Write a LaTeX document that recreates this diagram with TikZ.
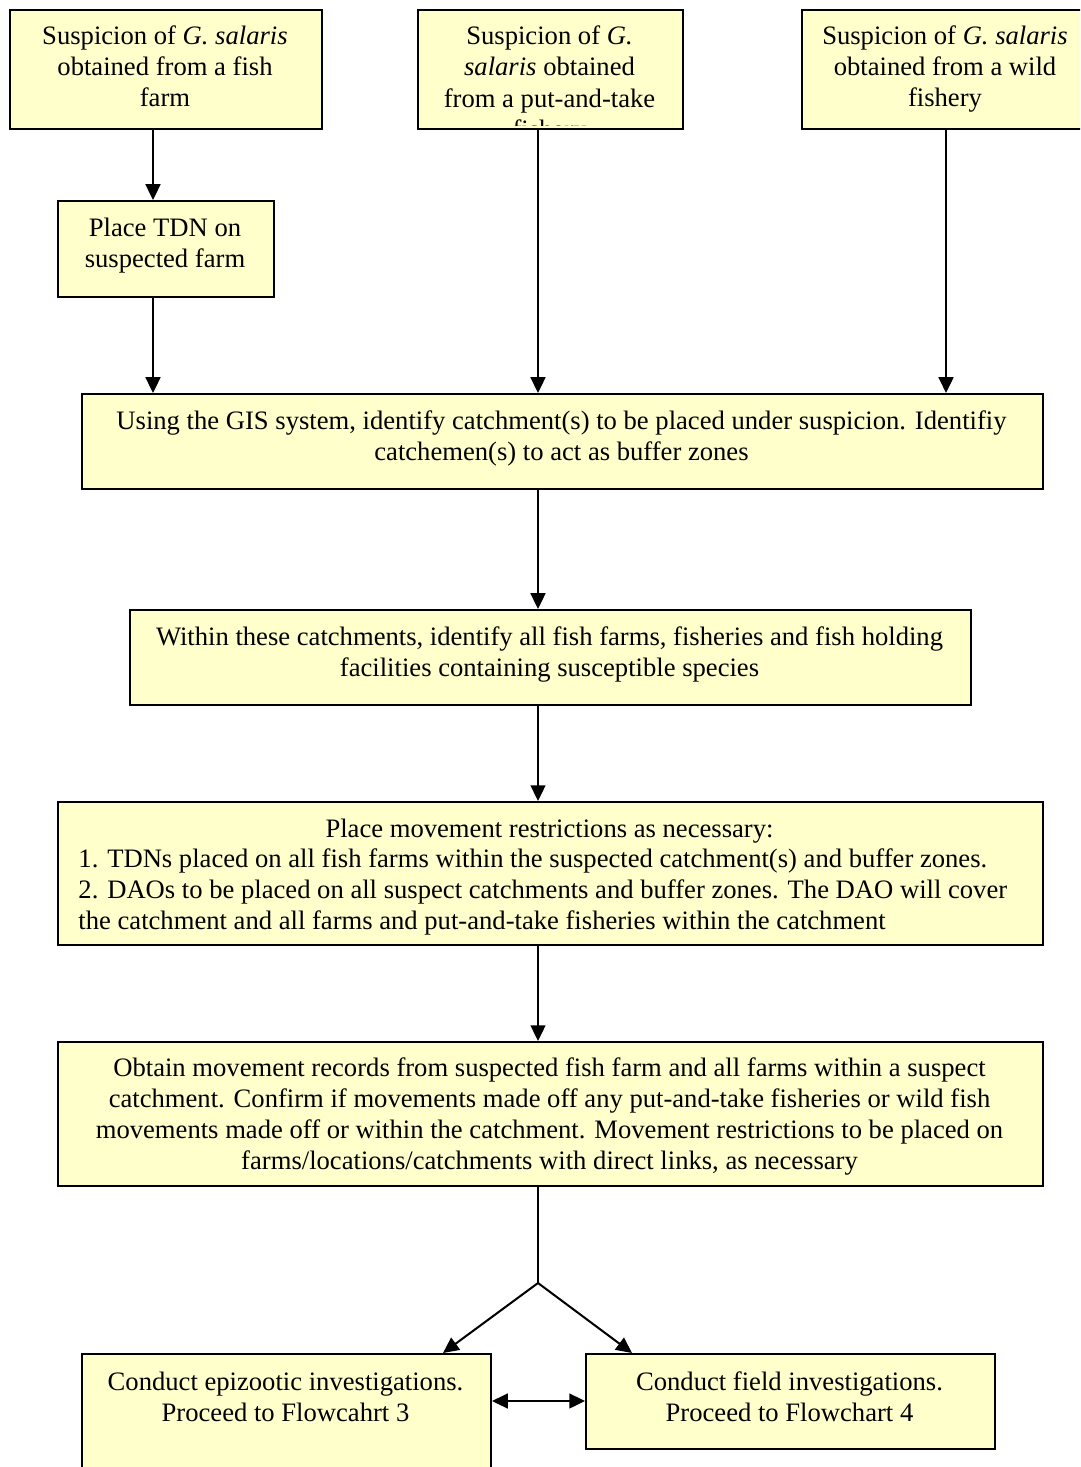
\documentclass[tikz,border=0pt]{standalone}
\usepackage{fontspec}
\setmainfont{Liberation Serif}
\usetikzlibrary{arrows.meta}
\definecolor{boxfill}{HTML}{FFFFCC}
\begin{document}
\begin{tikzpicture}[x=0.4444pt, y=-0.4444pt,
  wh/.style 2 args={minimum width={#1*0.4444pt}, minimum height={#2*0.4444pt}},
  box/.style={draw=black, fill=boxfill, line width=0.9pt, inner sep=0pt, anchor=north west},
  txt/.style={inner sep=0pt, align=center, font=\fontsize{11.83}{13.8}\selectfont},
  tip/.tip={Triangle[length=7pt, width=6.6pt]},
  link/.style={line width=0.9pt},
  flow/.style={link, -tip},
]
\useasboundingbox (0,0) rectangle (1080,1467);
\clip (0,0) rectangle (1080,1467);

% sources of suspicion
\node[box, wh={312}{119}] (A) at (9,9) {};
\node[txt] (Atxt) at (165,66)
  {Suspicion of \textit{G. salaris}\\obtained from a fish\\farm};
\node[box, wh={265}{119}] (B) at (417,9) {};
\begin{scope}
  \clip (B.north west) rectangle ([yshift=2.2pt]B.south east);
  \node[txt] (Btxt) at (549.5,85)
    {Suspicion of \textit{G.}\\\textit{salaris} obtained\\from a put-and-take\\fishery};
\end{scope}
\node[box, wh={288}{119}] (C) at (801,9) {};
\node[txt] (Ctxt) at (945,69)
  {Suspicion of \textit{G. salaris}\\obtained from a wild\\fishery};

\node[box, wh={216}{96}] (D) at (57,200) {};
\node[txt] (Dtxt) at (165,246) {Place TDN on\\suspected farm};

% main sequence
\node[box, wh={961}{95}] (E) at (81,393) {};
\node[txt] (Etxt) at (561.5,438.5)
  {Using the GIS system, identify catchment(s) to be placed under suspicion. Identifiy\\catchemen(s) to act as buffer zones};
\node[box, wh={841}{95}] (F) at (129,609) {};
\node[txt] (Ftxt) at (549.5,654.5)
  {Within these catchments, identify all fish farms, fisheries and fish holding\\facilities containing susceptible species};
\node[box, wh={985}{143}] (G) at (57,801) {};
\node[txt] (Gtitle) at (549.5,831) {Place movement restrictions as necessary:};
\node[txt, align=left, anchor=west] (Gbody) at (78,892)
  {1. TDNs placed on all fish farms within the suspected catchment(s) and buffer zones.\\
   2. DAOs to be placed on all suspect catchments and buffer zones. The DAO will cover\\
   the catchment and all farms and put-and-take fisheries within the catchment};
\node[box, wh={985}{144}] (H) at (57,1041) {};
\node[txt] (Htxt) at (549.5,1116.5)
  {Obtain movement records from suspected fish farm and all farms within a suspect\\catchment. Confirm if movements made off any put-and-take fisheries or wild fish\\movements made off or within the catchment. Movement restrictions to be placed on\\farms/locations/catchments with direct links, as necessary};

% follow-up investigations
\node[box, wh={409}{230}] (I) at (81,1353) {};
\node[txt] (Itxt) at (285.5,1396.5)
  {Conduct epizootic investigations.\\Proceed to Flowcahrt 3};
\node[box, wh={409}{95}] (J) at (585,1353) {};
\node[txt] (Jtxt) at (789.5,1396.5)
  {Conduct field investigations.\\Proceed to Flowchart 4};

% connectors
\coordinate (lx) at (153,0);
\coordinate (mx) at (538,0);
\coordinate (ix) at (443,0);
\coordinate (jx) at (632,0);
\coordinate (by) at (0,1401);
\coordinate (fork) at (538,1283);

\draw[flow] (A.south -| lx) -- (D.north -| lx);
\draw[flow] (D.south -| lx) -- (E.north -| lx);
\draw[flow] (B.south -| mx) -- (E.north -| mx);
\draw[flow] (C.south) -- (E.north -| C.south);
\draw[flow] (E.south -| mx) -- (F.north -| mx);
\draw[flow] (F.south -| mx) -- (G.north -| mx);
\draw[flow] (G.south -| mx) -- (H.north -| mx);
\draw[link] (H.south -| mx) -- (fork);
\draw[flow] (fork) -- (I.north -| ix);
\draw[flow] (fork) -- (J.north -| jx);
\draw[link, tip-tip] (I.east |- by) -- (J.west |- by);
\end{tikzpicture}
\end{document}
